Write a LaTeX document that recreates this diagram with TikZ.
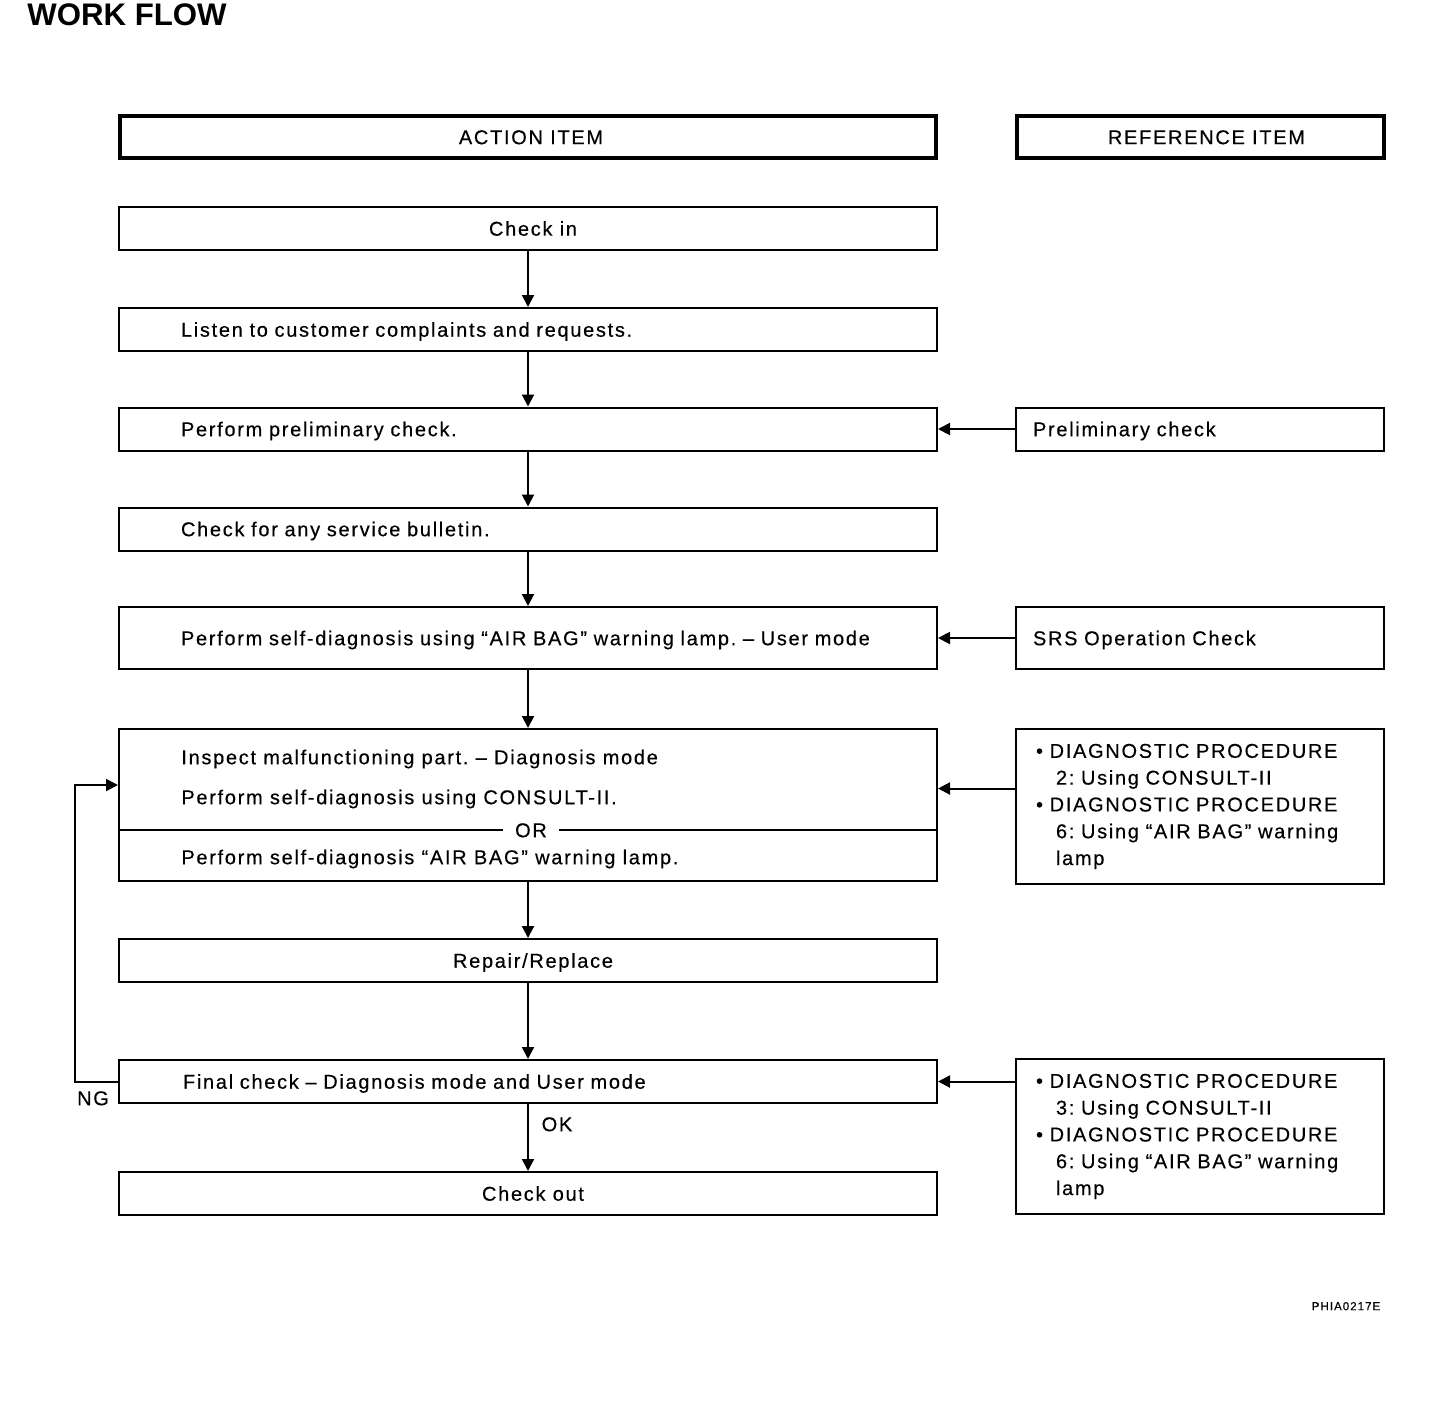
\documentclass[tikz,border=0pt]{standalone}
\usepackage{fontspec}
\setmainfont{Liberation Sans}[LetterSpace=8.5,FakeBold=0.4]
\newfontfamily\titlefont{Liberation Sans}
\usetikzlibrary{arrows.meta}
\begin{document}
\frenchspacing
\begin{tikzpicture}[x=0.5pt,y=-0.5pt,
  every node/.style={inner sep=0pt, font=\fontsize{10}{13.4}\selectfont},
  frame/.style={draw, line width=1pt},
  one/.style={text height=7.2pt, text depth=0pt},
  head/.style={draw, line width=2pt, minimum height=21pt, one},
  cbox/.style={frame, one, minimum width=409pt, minimum height=21.5pt},
  lbox/.style={frame, one, align=left, text width=347pt, inner xsep=31pt, minimum height=21.5pt},
  rbox/.style={frame, one, align=left, text width=167pt, inner xsep=8.5pt, minimum height=21.5pt},
  bbox/.style={frame, align=left, text width=164pt, inner xsep=10pt, minimum height=77.5pt},
  lbl/.style={one},
  arr/.style={line width=1pt, -{Triangle[length=6pt,width=6pt]}},
  ln/.style={line width=1pt}
]
\useasboundingbox (0,0) rectangle (1440,1420);

% title
\node[anchor=base west, font=\titlefont\bfseries\fontsize{15.6}{18}\selectfont] (title) at (27,25) {WORK FLOW};

% headers
\node[head, minimum width=408pt] (hA) at (528,137) {\hspace*{3pt}ACTION ITEM};
\node[head, minimum width=183.5pt] (hR) at (1200.5,137) {\hspace*{6pt}REFERENCE ITEM};

% action column
\node[cbox] (ci) at (528,228.5) {\hspace*{5pt}Check in};
\node[lbox] (ls) at (528,329.5) {Listen to customer complaints and requests.};
\node[lbox] (pp) at (528,429) {Perform preliminary check.};
\node[lbox] (sb) at (528,529) {Check for any service bulletin.};
\node[lbox, minimum height=31pt] (sd) at (528,638) {Perform self-diagnosis using “AIR BAG” warning lamp. – User mode};
\node[frame, minimum width=409pt, minimum height=76pt] (insp) at (528,805) {};
\node[lbl, anchor=west] (i1) at (181,757) {Inspect malfunctioning part. – Diagnosis mode};
\node[lbl, anchor=west] (i2) at (181,797) {Perform self-diagnosis using CONSULT-II.};
\node[lbl, inner xsep=6pt] (or) at (531,830) {OR};
\node[lbl, anchor=west] (i3) at (181,857) {Perform self-diagnosis “AIR BAG” warning lamp.};
\draw[ln] (insp.west |- or) -- (or.west);
\draw[ln] (or.east) -- (insp.east |- or);
\node[cbox] (rr) at (528,960.5) {\hspace*{5pt}Repair/Replace};
\node[lbox] (fin) at (528,1081.5) {\hspace*{1pt}Final check – Diagnosis mode and User mode};
\node[cbox] (co) at (528,1193.5) {\hspace*{5pt}Check out};

% reference column
\node[rbox] (pr) at (1200,429) {Preliminary check};
\node[rbox, minimum height=31pt] (srs) at (1200,638) {SRS Operation Check};
\node[bbox] (d1) at (1200,806.5) {• DIAGNOSTIC PROCEDURE\\\hspace*{10pt}2: Using CONSULT-II\\• DIAGNOSTIC PROCEDURE\\\hspace*{10pt}6: Using “AIR BAG” warning\\\hspace*{10pt}lamp};
\node[bbox] (d2) at (1200,1136.5) {• DIAGNOSTIC PROCEDURE\\\hspace*{10pt}3: Using CONSULT-II\\• DIAGNOSTIC PROCEDURE\\\hspace*{10pt}6: Using “AIR BAG” warning\\\hspace*{10pt}lamp};

% vertical flow
\draw[arr] (ci.south) -- (ls.north);
\draw[arr] (ls.south) -- (pp.north);
\draw[arr] (pp.south) -- (sb.north);
\draw[arr] (sb.south) -- (sd.north);
\draw[arr] (sd.south) -- (insp.north);
\draw[arr] (insp.south) -- (rr.north);
\draw[arr] (rr.south) -- (fin.north);
\draw[arr] (fin.south) -- (co.north);
\node[lbl] (ok) at (557,1124) {OK};

% reference arrows
\draw[arr] (pr.west) -- (pp.east);
\draw[arr] (srs.west) -- (sd.east);
\path (d1.west) ++(0,-18) coordinate (d1a);
\draw[arr] (d1a) -- (d1a -| insp.east);
\draw[arr] (d2.west |- fin) -- (fin.east);

% NG loop
\path (insp.west) ++(0,-20) coordinate (ngin);
\draw[arr] (fin.west) -- ++(-43,0) |- (ngin);
\node[lbl] (ng) at (93,1098) {NG};

% figure code
\node[lbl, font=\fontsize{5.8}{7}\selectfont, text height=4.2pt] (code) at (1346,1306) {PHIA0217E};
\end{tikzpicture}
\end{document}
